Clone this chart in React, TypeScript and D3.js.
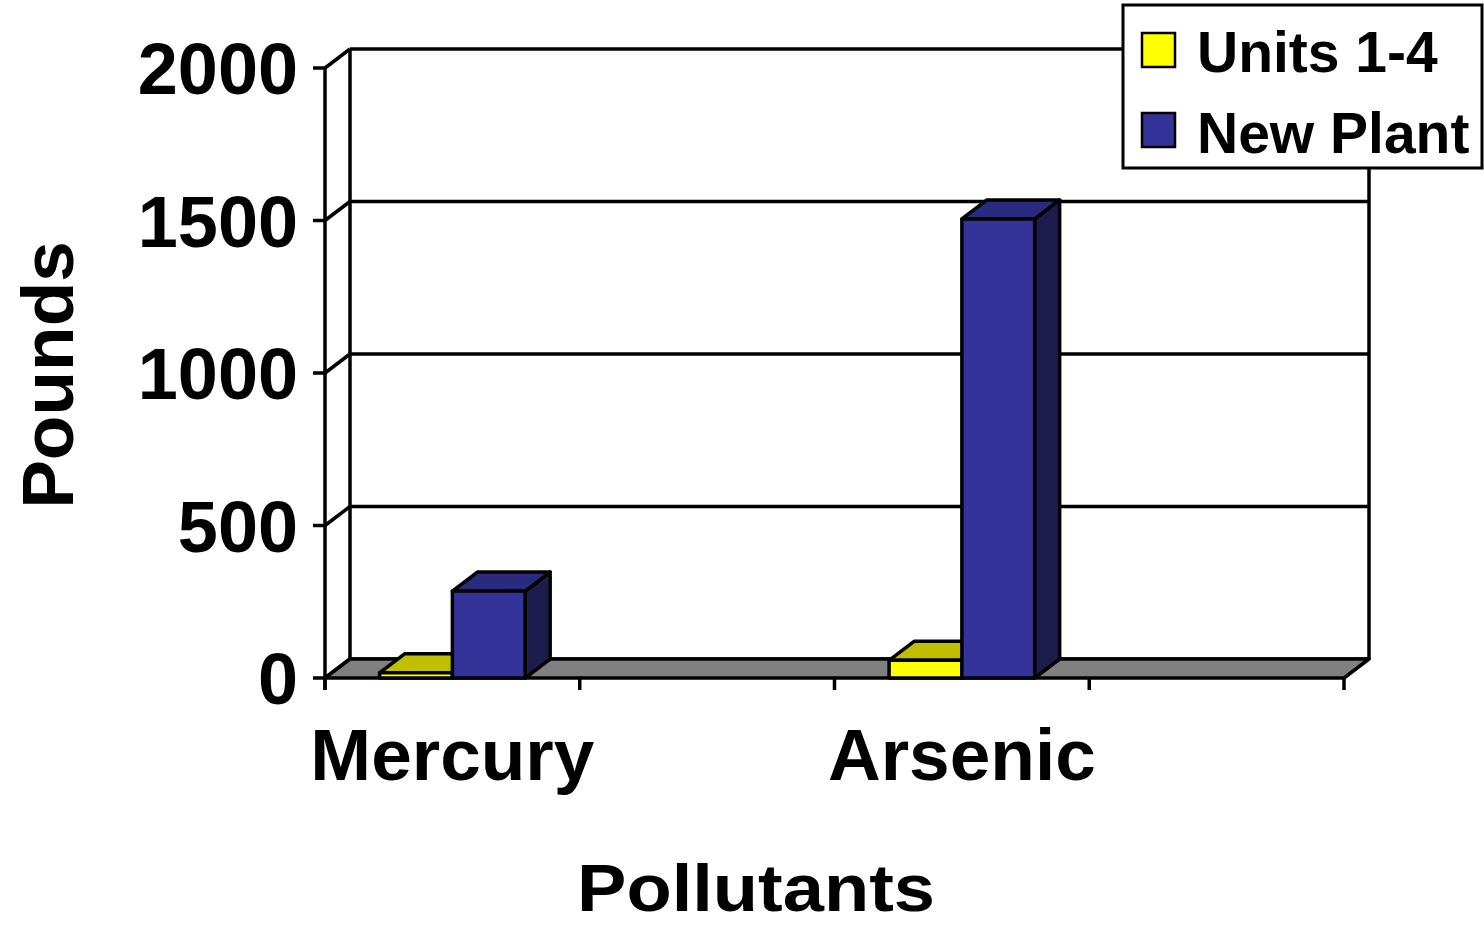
import React from "react";
import * as d3 from "d3";

// ---- data ----
const categories: string[] = ["Mercury", "", "Arsenic", ""];
const seriesNames: string[] = ["Units 1-4", "New Plant"];
const unitsValues: (number | null)[] = [17, null, 58, null];
const newPlantValues: (number | null)[] = [285, null, 1505, null];
const yTicks: number[] = [0, 500, 1000, 1500, 2000];
const xTitle = "Pollutants";
const yTitle = "Pounds";

const W = 1484;
const H = 927;
const FONT = "'Liberation Sans', Arial, Helvetica, sans-serif";

// colour sets per series: front, top, side
const palette = [
  { front: "#FFFF00", top: "#C0C000", side: "#808000" },
  { front: "#333399", top: "#2A2A7E", side: "#1C1C4D" },
];

export default function App() {
  const left = 325;
  const right = 1344;
  const dx = 25;
  const dy = -19;
  const y = d3.scaleLinear().domain([0, 2000]).range([678, 68]);
  const x = d3
    .scaleBand<number>()
    .domain(d3.range(categories.length))
    .range([left, right])
    .padding(0);
  const xs = d3
    .scaleBand<number>()
    .domain(d3.range(seriesNames.length))
    .range([0, x.bandwidth()])
    .paddingInner(0)
    .paddingOuter(0.75);
  const series = [unitsValues, newPlantValues];
  const y0 = y(0);
  const sw = 3.5;

  const pts = (arr: [number, number][]) => arr.map((p) => p.join(",")).join(" ");

  const bars: React.ReactNode[] = [];
  categories.forEach((_, ci) => {
    series.forEach((vals, si) => {
      const v = vals[ci];
      if (v == null) return;
      const x0 = (x(ci) as number) + (xs(si) as number);
      const x1 = x0 + xs.bandwidth();
      const yt = y(v);
      const c = palette[si];
      bars.push(
        <g key={`b-${ci}-${si}`} stroke="#000" strokeWidth={sw} strokeLinejoin="round">
          <polygon
            points={pts([
              [x1, y0],
              [x1 + dx, y0 + dy],
              [x1 + dx, yt + dy],
              [x1, yt],
            ])}
            fill={c.side}
          />
          <polygon
            points={pts([
              [x0, yt],
              [x1, yt],
              [x1 + dx, yt + dy],
              [x0 + dx, yt + dy],
            ])}
            fill={c.top}
          />
          <rect x={x0} y={yt} width={x1 - x0} height={y0 - yt} fill={c.front} />
        </g>
      );
    });
  });

  return (
    <svg width={W} height={H} style={{ display: "block", position: "absolute", left: 0, top: 0 }}>
      <rect x={0} y={0} width={W} height={H} fill="#fff" />
      {/* back wall gridlines and left wall diagonals */}
      <g stroke="#000" strokeWidth={sw} fill="none">
        {yTicks.map((t) => (
          <g key={`g-${t}`}>
            <line x1={left + dx} x2={right + dx} y1={y(t) + dy} y2={y(t) + dy} />
            <line x1={left} x2={left + dx} y1={y(t)} y2={y(t) + dy} />
            <line x1={left - 12} x2={left} y1={y(t)} y2={y(t)} />
          </g>
        ))}
        <line x1={left + dx} x2={left + dx} y1={y(2000) + dy} y2={y(0) + dy} />
        <line x1={right + dx} x2={right + dx} y1={y(2000) + dy} y2={y(0) + dy} />
        <line x1={left} x2={left} y1={y(2000)} y2={y(0) + 12} />
      </g>
      {/* floor */}
      <polygon
        points={pts([
          [left, y0],
          [right, y0],
          [right + dx, y0 + dy],
          [left + dx, y0 + dy],
        ])}
        fill="#808080"
        stroke="#000"
        strokeWidth={sw}
        strokeLinejoin="round"
      />
      {bars}
      {/* x ticks */}
      <g stroke="#000" strokeWidth={sw}>
        {d3.range(categories.length + 1).map((i) => {
          const xx = i < categories.length ? (x(i) as number) : right;
          return <line key={`xt-${i}`} x1={xx} x2={xx} y1={y0} y2={y0 + 12} />;
        })}
      </g>
      {/* y tick labels */}
      <g fontFamily={FONT} fontWeight="bold" fontSize={72} textAnchor="end" fill="#000">
        {yTicks.map((t) => (
          <text key={`yl-${t}`} x={298} y={y(t) + 26}>
            {t}
          </text>
        ))}
      </g>
      {/* category labels */}
      <g fontFamily={FONT} fontWeight="bold" fontSize={73} textAnchor="middle" fill="#000">
        {categories.map((c, i) =>
          c ? (
            <text key={`xl-${i}`} x={(x(i) as number) + x.bandwidth() / 2} y={780}>
              {c}
            </text>
          ) : null
        )}
      </g>
      {/* axis titles */}
      <text
        x={756}
        y={911}
        fontFamily={FONT}
        fontWeight="bold"
        fontSize={66}
        textAnchor="middle"
        textLength={358}
        lengthAdjust="spacingAndGlyphs"
      >
        {xTitle}
      </text>
      <text
        transform="translate(73,375) rotate(-90)"
        fontFamily={FONT}
        fontWeight="bold"
        fontSize={73}
        textAnchor="middle"
      >
        {yTitle}
      </text>
      {/* legend */}
      <g>
        <rect x={1123} y={5} width={359} height={163} fill="#fff" stroke="#000" strokeWidth={3} />
        {seriesNames.map((s, i) => (
          <g key={`lg-${i}`}>
            <rect
              x={1142}
              y={33 + i * 80}
              width={33}
              height={34}
              fill={palette[i].front}
              stroke="#000"
              strokeWidth={2.5}
            />
            <text x={1197} y={72 + i * 81} fontFamily={FONT} fontWeight="bold" fontSize={57}>
              {s}
            </text>
          </g>
        ))}
      </g>
    </svg>
  );
}
